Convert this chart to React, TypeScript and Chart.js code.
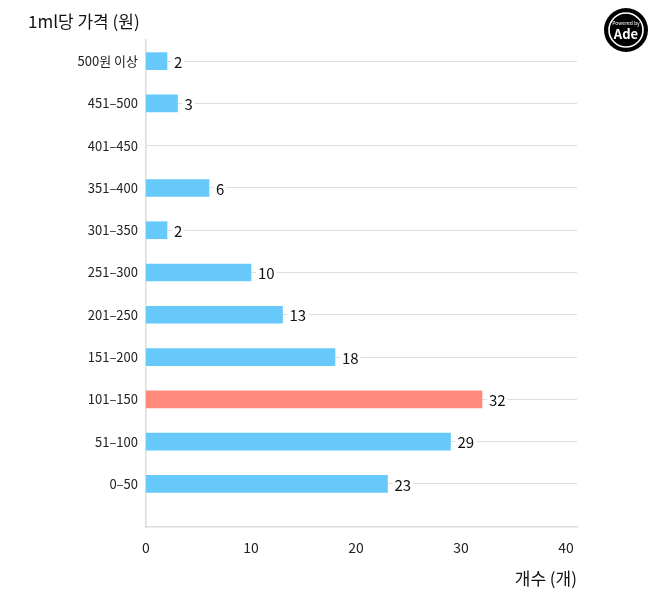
import React, { useEffect, useRef } from "react";
import { Chart, registerables } from "chart.js";

Chart.register(...registerables);

const categories = ["500원 이상", "451–500", "401–450", "351–400", "301–350", "251–300", "201–250", "151–200", "101–150", "51–100", "0–50"];
const counts = [2, 3, 0, 6, 2, 10, 13, 18, 32, 29, 23];
const highlightIndex = 8;
const xTicks = [0, 10, 20, 30, 40];
const yTitle = "1ml당 가격 (원)";
const xTitle = "개수 (개)";

const FONT = "'Noto Sans CJK KR', 'Noto Sans', sans-serif";
const BLUE = "#66C9FA";
const RED = "#FF8A7B";

export default function App() {
  const ref = useRef<HTMLCanvasElement | null>(null);

  useEffect(() => {
    if (!ref.current) return;
    const labelPlugin = {
      id: "valueLabels",
      afterDatasetsDraw(chart: any) {
        const ctx = chart.ctx;
        const meta = chart.getDatasetMeta(0);
        ctx.save();
        ctx.font = `15px ${FONT}`;
        ctx.textAlign = "left";
        ctx.textBaseline = "middle";
        meta.data.forEach((bar: any, i: number) => {
          if (!counts[i]) return;
          const w = ctx.measureText(String(counts[i])).width;
          ctx.fillStyle = "#fff";
          ctx.fillRect(bar.x + 5, bar.y - 2, w + 4, 4);
          ctx.fillStyle = "#111";
          ctx.fillText(String(counts[i]), bar.x + 7, bar.y + 1);
        });
        ctx.restore();
      },
      afterDraw(chart: any) {
        const ctx = chart.ctx;
        const area = chart.chartArea;
        ctx.save();
        ctx.fillStyle = "#111";
        ctx.font = `17px ${FONT}`;
        ctx.textBaseline = "middle";
        ctx.textAlign = "left";
        ctx.fillText(yTitle, 28, 22);
        ctx.textAlign = "right";
        ctx.fillText(xTitle, area.right, 579);
        // logo
        const cx = 626, cy = 30;
        ctx.fillStyle = "#000";
        ctx.beginPath();
        ctx.arc(cx, cy, 22, 0, Math.PI * 2);
        ctx.fill();
        ctx.strokeStyle = "#fff";
        ctx.lineWidth = 1.6;
        ctx.beginPath();
        ctx.arc(cx, cy, 17, 0, Math.PI * 2);
        ctx.stroke();
        ctx.fillStyle = "#fff";
        ctx.textAlign = "center";
        ctx.font = `5px ${FONT}`;
        ctx.fillText("Powered by", cx, cy - 7);
        ctx.font = `bold 13px ${FONT}`;
        ctx.fillText("Ade", cx, cy + 4);
        ctx.restore();
      },
    };

    const chart = new Chart(ref.current, {
      type: "bar",
      data: {
        datasets: [
          {
            data: counts.map((v, i) => ({ x: v, y: i })),
            backgroundColor: counts.map((v, i) => (v === 0 ? "rgba(0,0,0,0)" : i === highlightIndex ? RED : BLUE)),
            barThickness: 17,
            borderWidth: 0,
          },
        ],
      },
      options: {
        indexAxis: "y",
        animation: false,
        responsive: false,
        layout: { padding: { top: 40, right: 81, left: 0, bottom: 0 } },
        plugins: { legend: { display: false }, tooltip: { enabled: false } },
        scales: {
          x: {
            type: "linear",
            min: 0,
            max: 41.05,
            offset: false,
            afterBuildTicks: (s: any) => {
              s.ticks = xTicks.map((v) => ({ value: v }));
            },
            afterFit: (s: any) => {
              s.height = 76;
            },
            grid: { display: false, drawTicks: false },
            border: { display: true, color: "#dcdcdc", width: 1.5 },
            ticks: {
              padding: 12,
              color: "#222",
              font: { family: FONT, size: 14 },
            },
          },
          y: {
            type: "linear",
            reverse: true,
            min: -0.5,
            max: 11.02,
            offset: false,
            afterBuildTicks: (s: any) => {
              s.ticks = categories.map((_, i) => ({ value: i }));
            },
            afterFit: (s: any) => {
              s.width = 146;
            },
            grid: {
              display: true,
              offset: false,
              drawTicks: false,
              color: "#bdbdbd",
              lineWidth: 1,
            },
            border: { display: true, color: "#dcdcdc", width: 1.5, dash: [1, 1] },
            ticks: {
              padding: 8,
              color: "#222",
              font: { family: FONT, size: 13 },
              callback: (v: any) => categories[v as number] ?? "",
            },
          },
        },
      } as any,
      plugins: [labelPlugin],
    });
    return () => chart.destroy();
  }, []);

  return (
    <div style={{ position: "fixed", left: 0, top: 0, width: 658, height: 603, background: "#fff" }}>
      <canvas ref={ref} width={658} height={603} style={{ display: "block", width: 658, height: 603 }} />
    </div>
  );
}
